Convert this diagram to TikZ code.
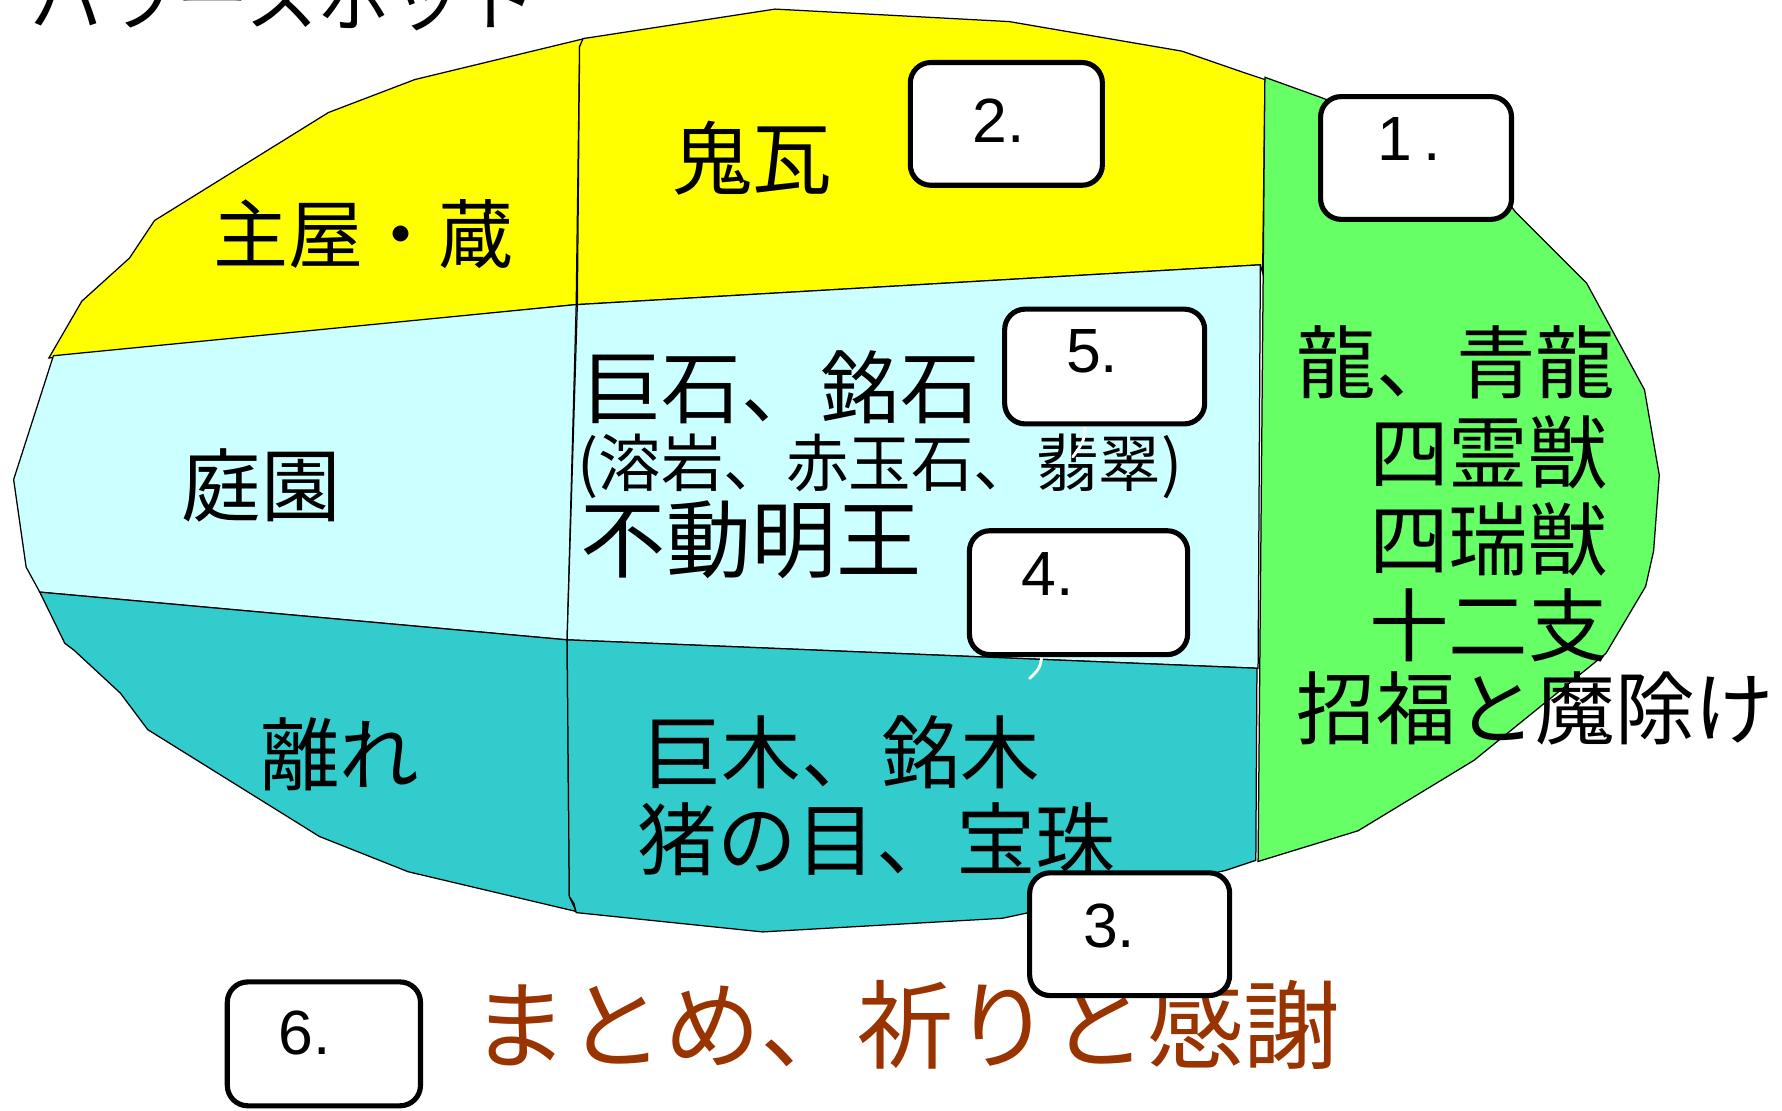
\documentclass[tikz,border=0pt]{standalone}
\usepackage{fontspec}
\setmainfont{Liberation Sans}
\newfontfamily\cjk{Noto Sans CJK JP}
\definecolor{ylw}{RGB}{255,255,0}
\definecolor{lcyan}{RGB}{204,255,255}
\definecolor{tealb}{RGB}{51,204,204}
\definecolor{grn}{RGB}{102,255,102}
\definecolor{brn}{RGB}{153,51,0}
\tikzset{
  region/.style={draw=black, line width=1.1pt, line join=miter},
  lbl/.style={font=\cjk\fontsize{70}{80}\selectfont, inner sep=0pt, text=black},
  sublbl/.style={font=\cjk\fontsize{55}{60}\selectfont, inner sep=0pt, text=black},
  numbox/.style={draw=black, fill=white, line width=4.5pt, rounded corners=18pt, inner sep=0pt},
  numtxt/.style={font=\fontsize{55}{60}\selectfont, inner sep=0pt},
  tailline/.style={draw=white, line width=2.5pt, line cap=round}
}
\begin{document}
\begin{tikzpicture}[x=1pt,y=-1pt]
\useasboundingbox (0,0) rectangle (1568,977);
\clip (0,0) rectangle (1568,977);
\fill[white] (0,0) rectangle (1568,977);

% title (cut off at the top, as in the reference)
\node[font=\cjk\fontsize{64}{70}\selectfont, inner sep=0pt, anchor=base west] (title) at (27,22) {パワースポット};

% regions
\path[region, fill=ylw] (514,34) -- (365,70) -- (289,99) -- (136,194) -- (114,227) -- (72,265) -- (43,315) -- (507,268) -- (510,41) -- cycle;
\path[region, fill=ylw] (513,34) -- (682,8) -- (888,19) -- (1040,45) -- (1092,63) -- (1113,70) -- (1111,240) -- (1109,233) -- (508,268) -- (510,41) -- cycle;
\path[region, fill=grn] (1113,68) -- (1163,86) -- (1300,140) -- (1333,186) -- (1396,249) -- (1447,343) -- (1460,418) -- (1455,485) -- (1448,516) -- (1413,575) -- (1297,669) -- (1195,731) -- (1107,758) -- cycle;
\path[region, fill=lcyan] (47,313) -- (507,268) -- (499,563) -- (35,521) -- (23,499) -- (12,422) -- cycle;
\path[region, fill=lcyan] (508,268) -- (1109,233) -- (1107,588) -- (499,563) -- cycle;
\path[region, fill=tealb] (35,521) -- (499,563) -- (501,789) -- (507,802) -- (359,767) -- (281,736) -- (130,642) -- (106,610) -- (65,572) -- (57,566) -- cycle;
\path[region, fill=tealb] (499,563) -- (1106,588) -- (1105,757) -- (1078,766) -- (882,808) -- (671,820) -- (507,803) -- (505,795) -- (501,789) -- cycle;

% labels
\node[lbl, font=\cjk\fontsize{66}{70}\selectfont] (omoya) at (320,206) {主屋・蔵};
\node[lbl] (onigawara) at (662,139) {鬼瓦};
\node[lbl] (teien) at (230,427) {庭園};
\node[lbl] (hanare) at (299,664) {離れ};
\node[lbl, anchor=west] (kyoseki) at (512,341) {巨石、銘石};
\node[sublbl, anchor=west] (yogan) at (508,410) {(溶岩、赤玉石、翡翠)};
\node[lbl, anchor=west, font=\cjk\fontsize{75}{80}\selectfont] (fudo) at (511,475) {不動明王};
\node[lbl, anchor=west] (ryu) at (1141,319) {龍、青龍};
\node[lbl, anchor=east] (shirei) at (1415,398) {四霊獣};
\node[lbl, anchor=east] (shizui) at (1415,475) {四瑞獣};
\node[lbl, anchor=east] (junishi) at (1415,550) {十二支};
\node[lbl, anchor=west] (shofuku) at (1141,623) {招福と魔除け};
\node[lbl, anchor=west] (kyoboku) at (565,662) {巨木、銘木};
\node[lbl, anchor=west] (inome) at (561,738) {猪の目、宝珠};
\node[lbl, text=brn, font=\cjk\fontsize{85}{90}\selectfont] (matome) at (797,902) {まとめ、祈りと感謝};

% white tails
\coordinate (t5a) at (955,372);
\coordinate (t5b) at (944,402);
\coordinate (t4a) at (917,576);
\coordinate (t4b) at (906,597);
\draw[tailline] (t5a) .. controls (954,388) .. (t5b);
\draw[tailline] (t4a) .. controls (915,588) .. (t4b);

% numbered boxes
\node[numbox, minimum width=168pt, minimum height=108pt] (b1) at (1246,139) {};
\node[numbox, minimum width=169pt, minimum height=108pt] (b2) at (885.5,109) {};
\node[numbox, minimum width=176pt, minimum height=101pt] (b5) at (972,322.5) {};
\node[numbox, minimum width=192pt, minimum height=109pt] (b4) at (949,521.5) {};
\node[numbox, minimum width=176pt, minimum height=108pt] (b3) at (994,822) {};
\node[numbox, minimum width=170pt, minimum height=109pt] (b6) at (285,918.5) {};

\node[numtxt] (n1) at (1240,122) {1\,.};
\node[numtxt] (n2) at (879,106) {2.};
\node[numtxt] (n5) at (961,309) {5.};
\node[numtxt] (n4) at (922,505) {4.};
\node[numtxt] (n3) at (976,815) {3.};
\node[numtxt] (n6) at (268,909) {6.};
\end{tikzpicture}
\end{document}
